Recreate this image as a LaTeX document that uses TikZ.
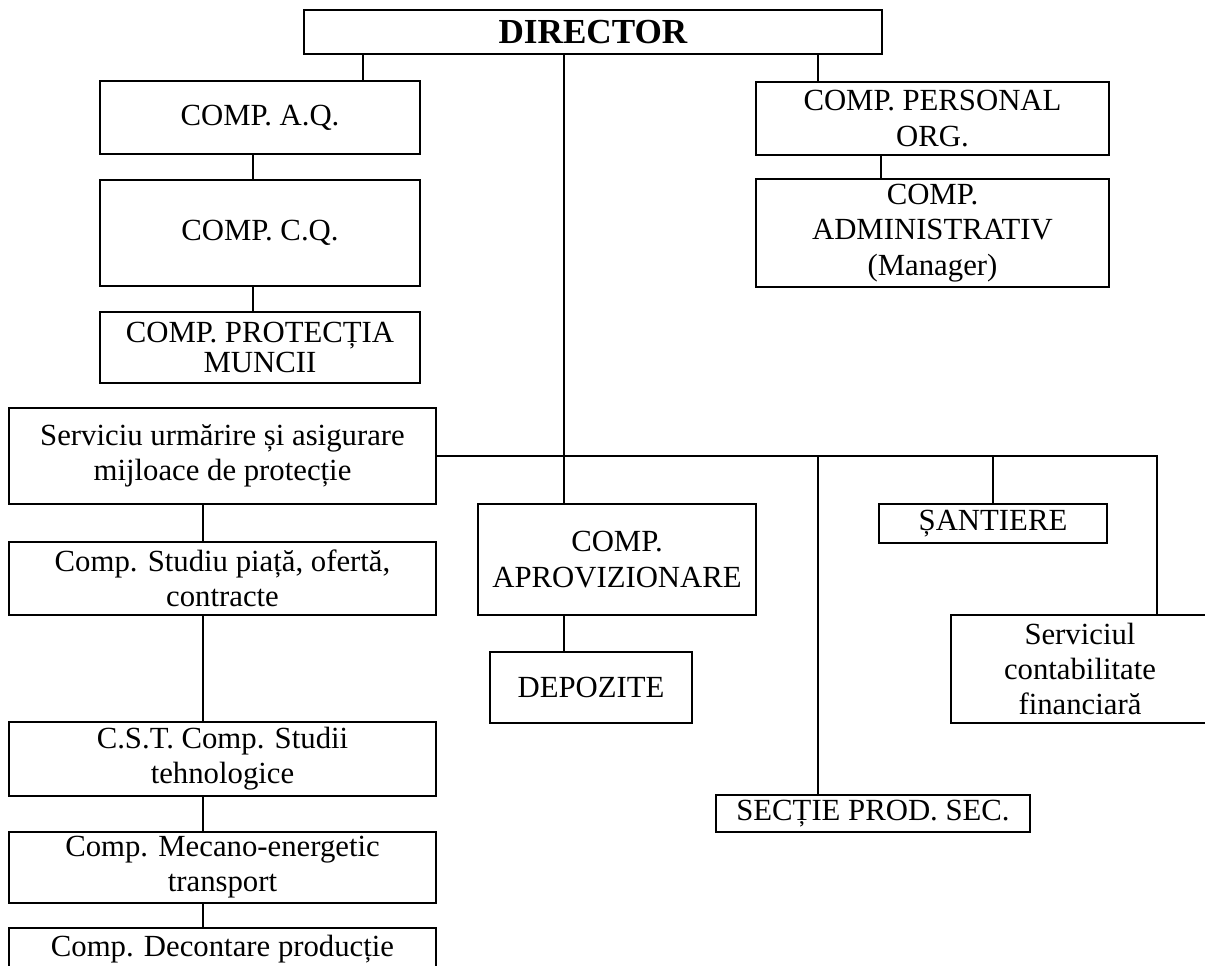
\documentclass[tikz,border=0pt]{standalone}
\usepackage{fontspec}
\setmainfont{Liberation Serif}
\begin{document}
\begin{tikzpicture}[x=0.02cm, y=-0.02cm,
  dept/.style={draw, line width=1.1pt, align=center, inner sep=1pt,
    font=\fontsize{17.5}{20}\selectfont},
  link/.style={line width=0.7pt}]
  \useasboundingbox (0,0) rectangle (1205,965);
  \coordinate (xaq) at (363,0);
  \coordinate (xq) at (253,0);
  \coordinate (xmain) at (564,0);
  \coordinate (xpers) at (818,0);
  \coordinate (xadm) at (881,0);
  \coordinate (xleft) at (203,0);
  \coordinate (xacc) at (1157,0);
  \node[dept, minimum width=11.56cm, minimum height=0.88cm,
    font=\fontsize{20}{24}\selectfont\bfseries] (director) at (593,32) {DIRECTOR};
  \node[dept, minimum width=6.4cm, minimum height=1.46cm] (aq) at (260,117.5) {COMP. A.Q.};
  \node[dept, minimum width=6.4cm, minimum height=2.12cm] (cq) at (260,233) {COMP. C.Q.};
  \node[dept, minimum width=6.4cm, minimum height=1.42cm,
    font=\fontsize{17.5}{17.5}\selectfont] (protectia) at (260,347.5) {COMP. PROTECȚIA\\MUNCII};
  \node[dept, minimum width=7.06cm, minimum height=1.46cm] (personal) at (932.5,118.5) {COMP. PERSONAL\\ORG.};
  \node[dept, minimum width=7.06cm, minimum height=2.16cm] (admin) at (932.5,233) {COMP.\\ADMINISTRATIV\\(Manager)};
  \node[dept, minimum width=8.54cm, minimum height=1.92cm] (serviciu) at (222.5,456) {Serviciu urmărire și asigurare\\mijloace de protecție};
  \node[dept, minimum width=8.54cm, minimum height=1.46cm] (studiu) at (222.5,578.5) {Comp. Studiu piață, ofertă,\\contracte};
  \node[dept, minimum width=8.54cm, minimum height=1.48cm] (cst) at (222.5,759) {C.S.T. Comp. Studii\\tehnologice};
  \node[dept, minimum width=8.54cm, minimum height=1.42cm] (mecano) at (222.5,867.5) {Comp. Mecano-energetic\\transport};
  \node[dept, minimum width=8.54cm, minimum height=0.84cm] (decontare) at (222.5,949) {Comp. Decontare producție};
  \node[dept, minimum width=5.56cm, minimum height=2.22cm] (aprov) at (617,559.5) {COMP.\\APROVIZIONARE};
  \node[dept, minimum width=4.04cm, minimum height=1.42cm] (depozite) at (591,687.5) {DEPOZITE};
  \node[dept, minimum width=4.56cm, minimum height=0.78cm] (santiere) at (993,523.5) {ȘANTIERE};
  \node[dept, minimum width=5.16cm, minimum height=2.16cm] (contab) at (1080,669) {Serviciul\\contabilitate\\financiară};
  \node[dept, minimum width=6.28cm, minimum height=0.74cm] (sectie) at (873,813.5) {SECȚIE PROD. SEC.};
  \draw[link] (director.south -| xaq) -- (aq.north -| xaq);
  \draw[link] (aq.south -| xq) -- (cq.north -| xq);
  \draw[link] (cq.south -| xq) -- (protectia.north -| xq);
  \draw[link] (director.south -| xpers) -- (personal.north -| xpers);
  \draw[link] (personal.south -| xadm) -- (admin.north -| xadm);
  \draw[link] (director.south -| xmain) -- (aprov.north -| xmain);
  \draw[link] (aprov.south -| xmain) -- (depozite.north -| xmain);
  \draw[link] (serviciu.east) -| (contab.north -| xacc);
  \draw[link] (serviciu.east -| xpers) -- (sectie.north -| xpers);
  \draw[link] (serviciu.east -| santiere.north) -- (santiere.north);
  \draw[link] (serviciu.south -| xleft) -- (studiu.north -| xleft);
  \draw[link] (studiu.south -| xleft) -- (cst.north -| xleft);
  \draw[link] (cst.south -| xleft) -- (mecano.north -| xleft);
  \draw[link] (mecano.south -| xleft) -- (decontare.north -| xleft);
\end{tikzpicture}
\end{document}
